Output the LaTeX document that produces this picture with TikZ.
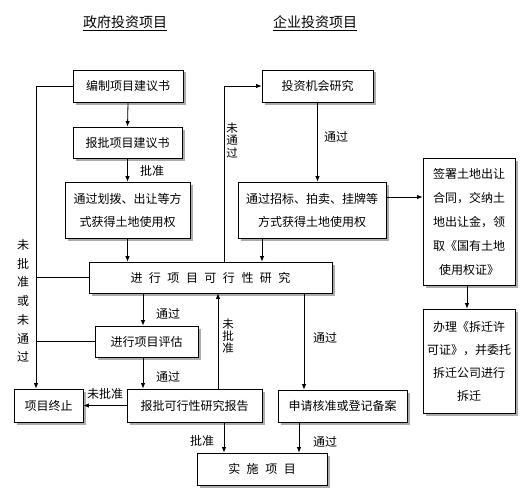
\documentclass[tikz,border=0pt]{standalone}
\usepackage{fontspec}
\setmainfont{Noto Sans CJK SC}
\usetikzlibrary{arrows.meta,shadows}
\newcommand{\kg}{\hspace{6.5pt}}
\begin{document}
\begin{tikzpicture}[x=1pt, y=-1pt,
		box/.style={draw, line width=0.8pt, fill=white, inner sep=0pt, align=center,
			font=\fontsize{12}{23}\selectfont,
			drop shadow={shadow xshift=2.5pt, shadow yshift=-2.5pt, fill=gray!65, opacity=1}},
		lab/.style={inner sep=0pt, align=center, font=\fontsize{12}{14}\selectfont},
		arr/.style={-{Latex[length=5.5pt, width=4.5pt]}, line width=0.8pt},
		ln/.style={line width=0.8pt}]
		\useasboundingbox (0,0) rectangle (529,500);

		% titles
		\node[lab, font=\fontsize{14}{16}\selectfont] (gov) at (125,23) {\underline{政府投资项目}};
		\node[lab, font=\fontsize{14}{16}\selectfont] (ent) at (315,23) {\underline{企业投资项目}};

		% boxes
		\node[box, minimum width=110pt, minimum height=32pt] (bianzhi) at (128,86) {编制项目建议书};
		\node[box, minimum width=109pt, minimum height=31pt] (baopi) at (127.5,142.5) {报批项目建议书};
		\node[box, minimum width=125pt, minimum height=56pt] (huabo) at (127.5,210) {通过划拨、出让等方\\式获得土地使用权};
		\node[box, minimum width=111pt, minimum height=32pt] (touzi) at (317.5,86) {投资机会研究};
		\node[box, minimum width=148pt, minimum height=56pt] (zhaobiao) at (312,210) {通过招标、拍卖、挂牌等\\方式获得土地使用权};
		\node[box, minimum width=92pt, minimum height=127pt, font=\fontsize{12}{24}\selectfont] (qianshu) at (469,221.5) {签署土地出让\\合同，交纳土\\地出让金，领\\取《国有土地\\使用权证》};
		\node[box, minimum width=92pt, minimum height=104pt] (banli) at (469,361) {办理《拆迁许\\可证》，并委托\\拆迁公司进行\\拆迁};
		\node[box, minimum width=243pt, minimum height=31pt] (kexing) at (210.5,277.5) {进\kg 行\kg 项\kg 目\kg 可\kg 行\kg 性\kg 研\kg 究};
		\node[box, minimum width=103pt, minimum height=31pt] (pinggu) at (146.5,341.5) {进行项目评估};
		\node[box, minimum width=69pt, minimum height=33pt] (zhongzhi) at (48.5,405.5) {项目终止};
		\node[box, minimum width=135pt, minimum height=33pt] (baogao) at (194.5,405.5) {报批可行性研究报告};
		\node[box, minimum width=129pt, minimum height=32pt] (shenqing) at (342.5,406) {申请核准或登记备案};
		\node[box, minimum width=130pt, minimum height=32pt] (shishi) at (262,469) {实\kg 施\kg 项\kg 目};

		% labels
		\node[lab] (pz1) at (152,171) {批准};
		\node[lab] (tg1) at (336,137) {通过};
		\node[lab] (tg2) at (168,314) {通过};
		\node[lab] (tg3) at (168,377) {通过};
		\node[lab] (wpz1) at (105,394) {未批准};
		\node[lab] (pz2) at (202,441) {批准};
		\node[lab] (tg4) at (325,338) {通过};
		\node[lab] (tg5) at (325,442) {通过};
		\node[lab, font=\fontsize{12}{18.7}\selectfont] (wpzh) at (23,301) {未\\批\\准\\或\\未\\通\\过};
		\node[lab, font=\fontsize{11.5}{12.8}\selectfont] (wtg) at (232,140.5) {未\\通\\过};
		\node[lab, font=\fontsize{11.5}{11.8}\selectfont] (wpz2) at (228,336) {未\\批\\准};

		% left branch
		\draw[arr] (bianzhi.south) -- (baopi.north);
		\draw[arr] (baopi.south) -- (baopi.south |- huabo.north);
		\draw[arr] (huabo.south) -- (huabo.south |- kexing.north);
		\draw[arr] (kexing.south -| 143,0) -- (pinggu.north -| 143,0);
		\draw[arr] (pinggu.south -| 143,0) -- (baogao.north -| 143,0);
		\draw[arr] (baogao.west) -- (zhongzhi.east);
		\draw[arr] (baogao.north -| 218,0) -- (kexing.south -| 218,0);
		\draw[arr] (baogao.south -| 224,0) -- (shishi.north -| 224,0);

		% not approved
		\coordinate (lft) at (36,86);
		\draw[arr] (bianzhi.west) -- (lft) -- (lft |- zhongzhi.north);
		\draw[ln] (kexing.west) -- (kexing.west -| lft);
		\draw[ln] (pinggu.west) -- (pinggu.west -| lft);

		% right branch
		\coordinate (back) at (224,86);
		\draw[arr] (kexing.north -| back) -- (back) -- (touzi.west);
		\draw[arr] (touzi.south) -- (touzi.south |- zhaobiao.north);
		\draw[arr] (zhaobiao.south -| 262,0) -- (kexing.north -| 262,0);
		\draw[arr] (zhaobiao.east |- 0,197) -- (qianshu.west |- 0,197);
		\draw[arr] (qianshu.south -| 467,0) -- (banli.north -| 467,0);
		\draw[arr] (kexing.south -| 304,0) -- (shenqing.north -| 304,0);
		\draw[arr] (shenqing.south -| 299,0) -- (shishi.north -| 299,0);
	\end{tikzpicture}
\end{document}
